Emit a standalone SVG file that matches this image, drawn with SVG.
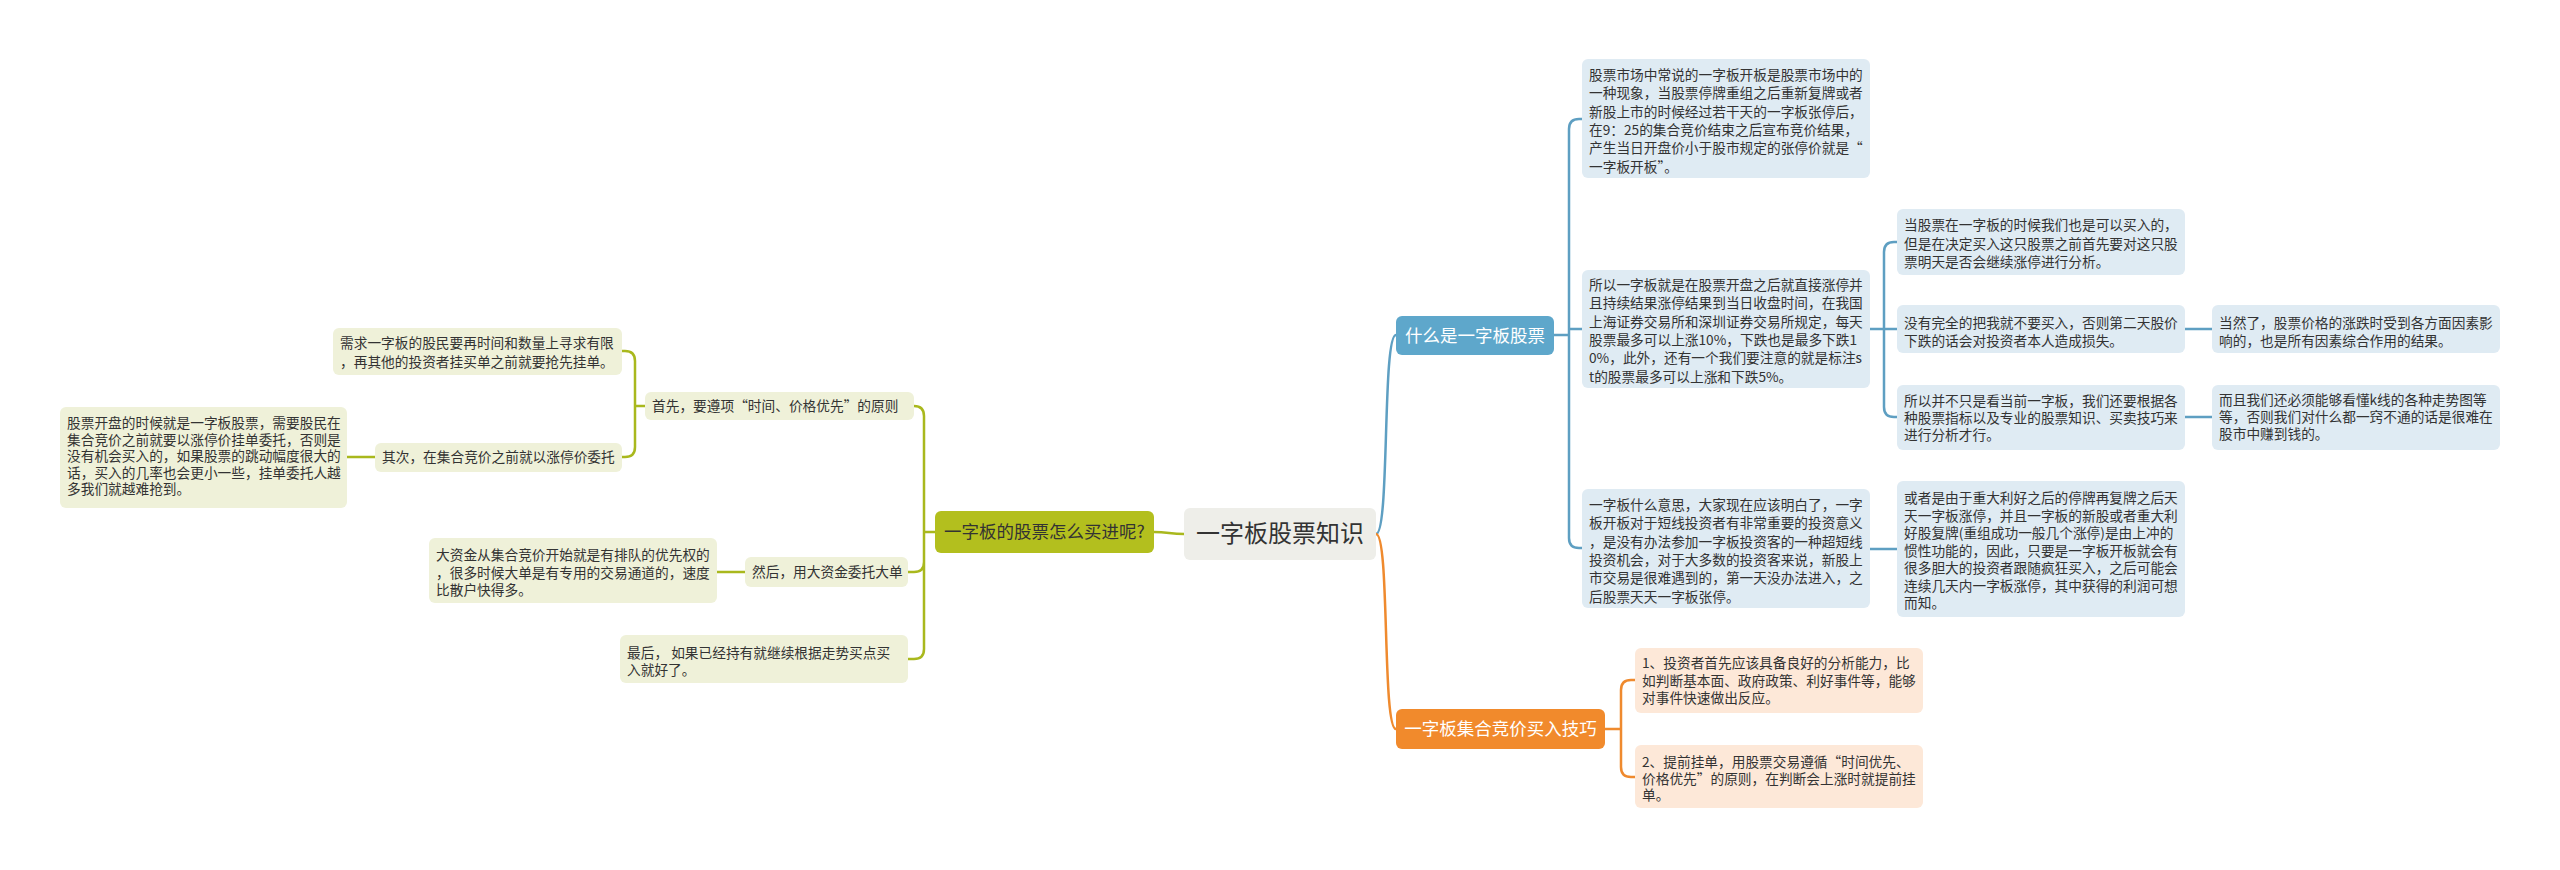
<svg xmlns="http://www.w3.org/2000/svg" width="2560" height="870" viewBox="0 0 2560 870">
<style>
.t{font-family:"Noto Sans CJK SC","Noto Sans",sans-serif;font-size:13.7px;fill:#333333}
.bb{fill:#dfebf3}
.ob{fill:#fde8d8}
.gb{fill:#eff1d9}
.cb{fill:none;stroke:#5e9fc2;stroke-width:2.5;stroke-linecap:round}
.co{fill:none;stroke:#ef8a2e;stroke-width:2.5;stroke-linecap:round}
.cg{fill:none;stroke:#a9b81d;stroke-width:2.5;stroke-linecap:round}
.m{font-family:"Noto Sans CJK SC","Noto Sans",sans-serif;font-size:17.5px}
</style>
<rect width="2560" height="870" fill="#ffffff"/>
<g id="connectors">
<path class="cb" d="M1376 534 C1390 534 1382 335 1396 335" stroke-width="3"/>
<path class="co" d="M1376 534 C1390 534 1382 729 1396 729" stroke-width="3"/>
<path class="cg" d="M1184 534 C1170 534 1168 532 1154 532" stroke-width="3"/>
<path class="cb" d="M1554 335 L1569 335 M1569 335 L1569 129 Q1569 119 1579 119 L1582 119 M1569 335 L1569 538 Q1569 548 1579 548 L1582 548 M1569 329 L1582 329"/>
<path class="cb" d="M1870 329 L1897 329 M1884 329 L1884 252 Q1884 242 1894 242 L1897 242 M1884 329 L1884 407 Q1884 417 1894 417 L1897 417"/>
<path class="cb" d="M1870 549 L1897 549"/>
<path class="cb" d="M2185 329 L2212 329 M2185 417 L2212 417"/>
<path class="co" d="M1605 729 L1621 729 M1621 729 L1621 690 Q1621 680 1631 680 L1635 680 M1621 729 L1621 767 Q1621 777 1631 777 L1635 777"/>
<path class="cg" d="M935 532 L924 532 M924 532 L924 416 Q924 406 914 406 M924 532 L924 562 Q924 572 914 572 L908 572 M924 562 L924 649 Q924 659 914 659 L908 659"/>
<path class="cg" d="M645 406 L635 406 M635 406 L635 361 Q635 351 625 351 L622 351 M635 406 L635 447 Q635 457 625 457 L622 457"/>
<path class="cg" d="M375 457 L347 457"/>
<path class="cg" d="M745 572 L717 572"/>
</g>
<g id="center">
<rect x="1184" y="508" width="192" height="52" rx="6" fill="#eeeee9"/>
<text x="1280" y="542" text-anchor="middle" font-family="Noto Sans CJK SC, Noto Sans, sans-serif" font-size="24" fill="#333333">一字板股票知识</text>
</g>
<g id="n-what">
<rect x="1396" y="316" width="158" height="39" rx="6" fill="#5ea7cb"/>
<text class="m" x="1475" y="341.5" text-anchor="middle" fill="#ffffff">什么是一字板股票</text>
</g>
<g id="n-tips">
<rect x="1396" y="709" width="209" height="40" rx="6" fill="#f18a2c"/>
<text class="m" x="1500.5" y="735" text-anchor="middle" fill="#ffffff">一字板集合竞价买入技巧</text>
</g>
<g id="n-how">
<rect x="935" y="511" width="219" height="42" rx="6" fill="#b3bf1e"/>
<text class="m" x="1044.5" y="538" text-anchor="middle" fill="#333333">一字板的股票怎么买进呢?</text>
</g>
<g id="b1">
<rect class="bb" x="1582" y="59" width="288" height="119" rx="6"/>
<text class="t" x="1589"><tspan x="1589" y="80">股票市场中常说的一字板开板是股票市场中的</tspan><tspan x="1589" y="98.3">一种现象，当股票停牌重组之后重新复牌或者</tspan><tspan x="1589" y="116.6">新股上市的时候经过若干天的一字板张停后，</tspan><tspan x="1589" y="134.9">在9：25的集合竞价结束之后宣布竞价结果，</tspan><tspan x="1589" y="153.2">产生当日开盘价小于股市规定的张停价就是“</tspan><tspan x="1589" y="171.5">一字板开板”。</tspan></text>
</g>
<g id="b2">
<rect class="bb" x="1582" y="270" width="288" height="118" rx="6"/>
<text class="t"><tspan x="1589" y="290">所以一字板就是在股票开盘之后就直接涨停并</tspan><tspan x="1589" y="308.3">且持续结果涨停结果到当日收盘时间，在我国</tspan><tspan x="1589" y="326.6">上海证券交易所和深圳证券交易所规定，每天</tspan><tspan x="1589" y="344.9">股票最多可以上涨10%，下跌也是最多下跌1</tspan><tspan x="1589" y="363.2">0%，此外，还有一个我们要注意的就是标注s</tspan><tspan x="1589" y="381.5">t的股票最多可以上涨和下跌5%。</tspan></text>
</g>
<g id="b3">
<rect class="bb" x="1582" y="489" width="288" height="119" rx="6"/>
<text class="t"><tspan x="1589" y="510">一字板什么意思，大家现在应该明白了，一字</tspan><tspan x="1589" y="528.3">板开板对于短线投资者有非常重要的投资意义</tspan><tspan x="1589" y="546.6">，是没有办法参加一字板投资客的一种超短线</tspan><tspan x="1589" y="564.9">投资机会，对于大多数的投资客来说，新股上</tspan><tspan x="1589" y="583.2">市交易是很难遇到的，第一天没办法进入，之</tspan><tspan x="1589" y="601.5">后股票天天一字板张停。</tspan></text>
</g>
<g id="s1">
<rect class="bb" x="1897" y="209" width="288" height="66" rx="6"/>
<text class="t"><tspan x="1904" y="230">当股票在一字板的时候我们也是可以买入的，</tspan><tspan x="1904" y="248.5">但是在决定买入这只股票之前首先要对这只股</tspan><tspan x="1904" y="267">票明天是否会继续涨停进行分析。</tspan></text>
</g>
<g id="s2">
<rect class="bb" x="1897" y="305" width="288" height="48" rx="6"/>
<text class="t"><tspan x="1904" y="328">没有完全的把我就不要买入，否则第二天股价</tspan><tspan x="1904" y="345.5">下跌的话会对投资者本人造成损失。</tspan></text>
</g>
<g id="s3">
<rect class="bb" x="1897" y="385" width="288" height="65" rx="6"/>
<text class="t"><tspan x="1904" y="406">所以并不只是看当前一字板，我们还要根据各</tspan><tspan x="1904" y="423">种股票指标以及专业的股票知识、买卖技巧来</tspan><tspan x="1904" y="440">进行分析才行。</tspan></text>
</g>
<g id="s4">
<rect class="bb" x="2212" y="305" width="288" height="48" rx="6"/>
<text class="t"><tspan x="2219" y="328">当然了，股票价格的涨跌时受到各方面因素影</tspan><tspan x="2219" y="345.5">响的，也是所有因素综合作用的结果。</tspan></text>
</g>
<g id="s5">
<rect class="bb" x="2212" y="385" width="288" height="65" rx="6"/>
<text class="t"><tspan x="2219" y="405">而且我们还必须能够看懂k线的各种走势图等</tspan><tspan x="2219" y="422">等，否则我们对什么都一窍不通的话是很难在</tspan><tspan x="2219" y="439">股市中赚到钱的。</tspan></text>
</g>
<g id="s6">
<rect class="bb" x="1897" y="481" width="288" height="136" rx="6"/>
<text class="t"><tspan x="1904" y="503">或者是由于重大利好之后的停牌再复牌之后天</tspan><tspan x="1904" y="520.5">天一字板涨停，并且一字板的新股或者重大利</tspan><tspan x="1904" y="538">好股复牌(重组成功一般几个涨停)是由上冲的</tspan><tspan x="1904" y="555.5">惯性功能的，因此，只要是一字板开板就会有</tspan><tspan x="1904" y="573">很多胆大的投资者跟随疯狂买入，之后可能会</tspan><tspan x="1904" y="590.5">连续几天内一字板涨停，其中获得的利润可想</tspan><tspan x="1904" y="608">而知。</tspan></text>
</g>
<g id="o1">
<rect class="ob" x="1635" y="648" width="288" height="65" rx="6"/>
<text class="t"><tspan x="1642" y="668">1、投资者首先应该具备良好的分析能力，比</tspan><tspan x="1642" y="685.5">如判断基本面、政府政策、利好事件等，能够</tspan><tspan x="1642" y="703">对事件快速做出反应。</tspan></text>
</g>
<g id="o2">
<rect class="ob" x="1635" y="745" width="288" height="63" rx="6"/>
<text class="t"><tspan x="1642" y="767">2、提前挂单，用股票交易遵循“时间优先、</tspan><tspan x="1642" y="783.5">价格优先”的原则，在判断会上涨时就提前挂</tspan><tspan x="1642" y="800">单。</tspan></text>
</g>
<g id="l-first">
<rect class="gb" x="645" y="392" width="269" height="28" rx="6"/>
<text class="t" x="652" y="411">首先，要遵项“时间、价格优先”的原则</text>
</g>
<g id="l-need">
<rect class="gb" x="333" y="328" width="289" height="47" rx="6"/>
<text class="t"><tspan x="340" y="348">需求一字板的股民要再时间和数量上寻求有限</tspan><tspan x="340" y="367">，再其他的投资者挂买单之前就要抢先挂单。</tspan></text>
</g>
<g id="l-second">
<rect class="gb" x="375" y="443" width="247" height="29" rx="6"/>
<text class="t" x="382" y="462">其次，在集合竞价之前就以涨停价委托</text>
</g>
<g id="l-open">
<rect class="gb" x="60" y="407" width="287" height="101" rx="6"/>
<text class="t"><tspan x="67" y="428">股票开盘的时候就是一字板股票，需要股民在</tspan><tspan x="67" y="444.5">集合竞价之前就要以涨停价挂单委托，否则是</tspan><tspan x="67" y="461">没有机会买入的，如果股票的跳动幅度很大的</tspan><tspan x="67" y="477.5">话，买入的几率也会更小一些，挂单委托人越</tspan><tspan x="67" y="494">多我们就越难抢到。</tspan></text>
</g>
<g id="l-then">
<rect class="gb" x="745" y="557" width="163" height="30" rx="6"/>
<text class="t" x="752" y="577">然后，用大资金委托大单</text>
</g>
<g id="l-big">
<rect class="gb" x="429" y="538" width="288" height="65" rx="6"/>
<text class="t"><tspan x="436" y="560">大资金从集合竞价开始就是有排队的优先权的</tspan><tspan x="436" y="578">，很多时候大单是有专用的交易通道的，速度</tspan><tspan x="436" y="595">比散户快得多。</tspan></text>
</g>
<g id="l-last">
<rect class="gb" x="620" y="635" width="288" height="48" rx="6"/>
<text class="t"><tspan x="627" y="658">最后， 如果已经持有就继续根据走势买点买</tspan><tspan x="627" y="675">入就好了。</tspan></text>
</g>
</svg>
